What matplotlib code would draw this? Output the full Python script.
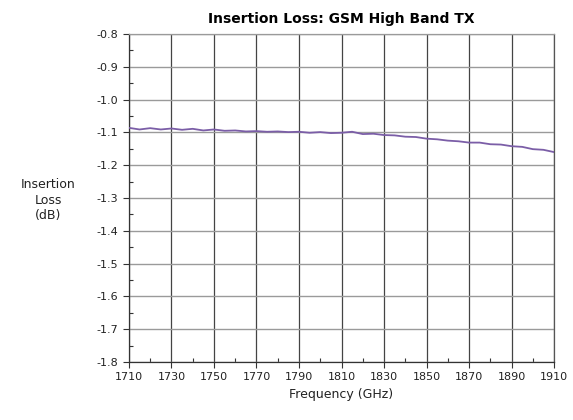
import matplotlib
matplotlib.use("Agg")
import matplotlib.pyplot as plt
from matplotlib.ticker import MultipleLocator

freq_mhz = [1710, 1715, 1720, 1725, 1730, 1735, 1740, 1745, 1750, 1755, 1760,
            1765, 1770, 1775, 1780, 1785, 1790, 1795, 1800, 1805, 1810,
            1815, 1820, 1825, 1830, 1835, 1840, 1845, 1850, 1855, 1860,
            1865, 1870, 1875, 1880, 1885, 1890, 1895, 1900, 1905, 1910]
loss_db = [-1.086, -1.091, -1.087, -1.091, -1.088, -1.092, -1.089, -1.094, -1.091, -1.095, -1.094,
           -1.097, -1.096, -1.098, -1.097, -1.099, -1.098, -1.101, -1.099, -1.102, -1.101,
           -1.098, -1.105, -1.104, -1.108, -1.109, -1.113, -1.114, -1.119, -1.121, -1.125,
           -1.127, -1.131, -1.131, -1.136, -1.137, -1.142, -1.144, -1.151, -1.153, -1.160]
x_ticks = list(range(1710, 1911, 20))
y_ticks = [-0.8, -0.9, -1.0, -1.1, -1.2, -1.3, -1.4, -1.5, -1.6, -1.7, -1.8]

fig = plt.figure(figsize=(5.73, 4.2), dpi=100)
ax = fig.add_axes([0.225, 0.138, 0.742, 0.781])
ax.plot(freq_mhz, loss_db, color="#7B5EA7", lw=1.3, zorder=3)
ax.set_xlim(1710, 1910)
ax.set_ylim(-1.8, -0.8)
ax.set_xticks(x_ticks)
ax.set_yticks(y_ticks)
ax.set_yticklabels([f"{v:.1f}" for v in y_ticks])
ax.xaxis.set_minor_locator(MultipleLocator(10))
ax.yaxis.set_minor_locator(MultipleLocator(0.05))
ax.yaxis.grid(True, which="major", color="#9a9a9a", lw=1.0)
ax.xaxis.grid(True, which="major", color="#444444", lw=0.9)
ax.tick_params(which="major", direction="out", length=4, width=0.8, color="#333333",
               labelsize=8, labelcolor="#222222")
ax.tick_params(which="minor", direction="in", length=3, width=0.8, color="#333333")
ax.spines["left"].set_color("#333333")
ax.spines["bottom"].set_color("#333333")
ax.spines["right"].set_color("#555555")
ax.spines["top"].set_color("#9a9a9a")
for s in ax.spines.values():
    s.set_linewidth(0.9)
ax.set_xlabel("Frequency (GHz)", fontsize=9, color="#222222")
ax.set_title("Insertion Loss: GSM High Band TX", fontsize=10, fontweight="bold", pad=8)
fig.text(48/573, 1-200/420, "Insertion\nLoss\n(dB)", ha="center", va="center",
         fontsize=9, color="#222222", linespacing=1.3)
fig.savefig("out.png", dpi=100)
